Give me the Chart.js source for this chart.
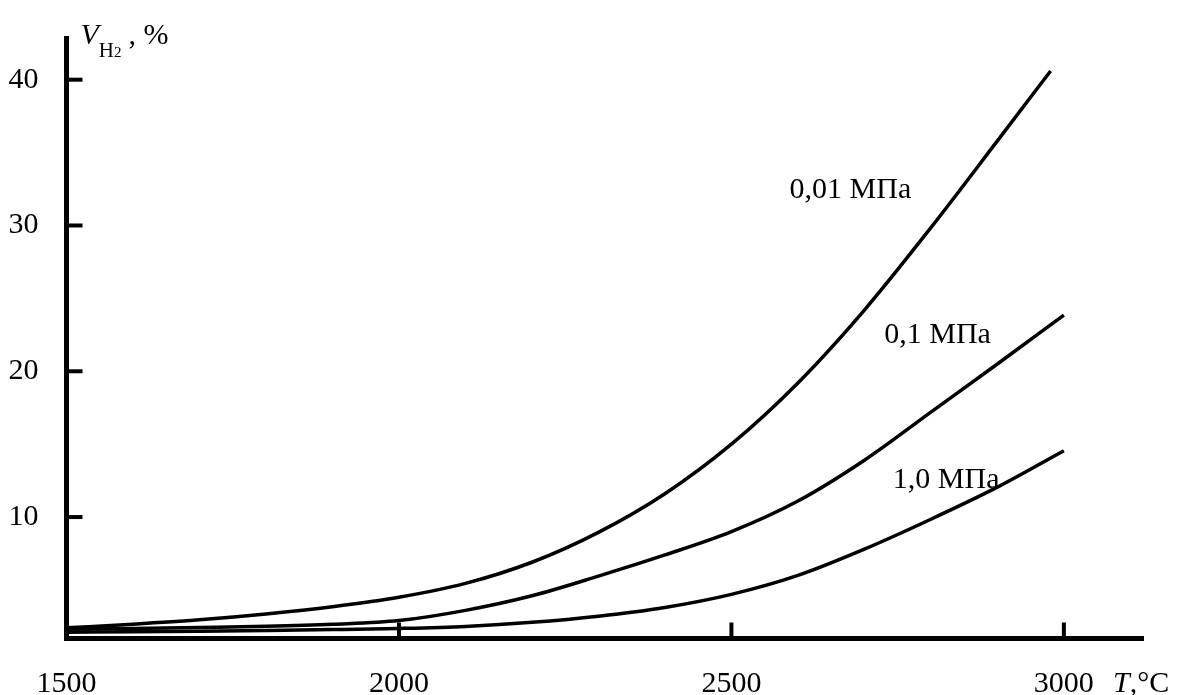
<!DOCTYPE html>
<html>
<head>
<meta charset="utf-8">
<script src="https://cdn.jsdelivr.net/npm/chart.js@4/dist/chart.umd.min.js"></script>
<style>
  html, body { margin: 0; padding: 0; background: #fff; }
  canvas { display: block; }
</style>
</head>
<body>
<canvas id="hydrogenChart" width="1192" height="695"></canvas>
<script>
// temperature, °C
const temps = [1500, 1600, 1700, 1800, 1900, 2000, 2100, 2200, 2300, 2400, 2500, 2600, 2700, 2800, 2900, 3000];
const temps001 = [1500, 1600, 1700, 1800, 1900, 2000, 2100, 2200, 2300, 2400, 2500, 2600, 2700, 2800, 2900, 2980];
// V(H2), % at 0.01, 0.1 and 1.0 MPa
const h2At001 = [2.4, 2.65, 2.95, 3.35, 3.85, 4.5, 5.45, 6.9, 8.95, 11.6, 15.0, 19.2, 24.2, 29.85, 35.8, 40.6];
const h2At01 = [2.3, 2.36, 2.43, 2.51, 2.65, 2.9, 3.6, 4.6, 5.95, 7.4, 9.0, 11.1, 13.9, 17.2, 20.5, 23.85];
const h2At10 = [2.1, 2.13, 2.17, 2.22, 2.28, 2.36, 2.5, 2.78, 3.2, 3.8, 4.7, 6.0, 7.8, 9.85, 12.05, 14.55];
const xTicks = [1500, 2000, 2500, 3000];
const yTicks = [10, 20, 30, 40];
const pressureLabels = ['0,01 МПа', '0,1 МПа', '1,0 МПа'];
// caption centres, in data units
const labelAnchors = [[2679, 32.4], [2810, 22.45], [2823, 12.5]];

const toPoints = (xs, ys) => xs.map((x, i) => ({ x: x, y: ys[i] }));
const serif = '"Liberation Serif", "Times New Roman", serif';

const curve = (data) => ({
    data: data,
    borderColor: '#000',
    borderWidth: 3.5,
    pointRadius: 0,
    fill: false,
    cubicInterpolationMode: 'monotone'
});

const decorations = {
    id: 'decorations',
    afterDraw(chart) {
        const c = chart.ctx;
        const area = chart.chartArea;
        const xs = chart.scales.x, ys = chart.scales.y;
        c.save();
        c.strokeStyle = '#000';
        c.lineWidth = 4;
        // inward tick marks
        yTicks.forEach(v => {
            const y = ys.getPixelForValue(v);
            c.beginPath();
            c.moveTo(area.left, y);
            c.lineTo(area.left + 16, y);
            c.stroke();
        });
        xTicks.slice(1).forEach(v => {
            const x = xs.getPixelForValue(v);
            c.beginPath();
            c.moveTo(x, area.bottom);
            c.lineTo(x, area.bottom - 16);
            c.stroke();
        });

        c.fillStyle = '#000';
        c.font = '30px ' + serif;
        c.textAlign = 'center';
        c.textBaseline = 'middle';
        pressureLabels.forEach((t, i) => {
            c.fillText(t, xs.getPixelForValue(labelAnchors[i][0]), ys.getPixelForValue(labelAnchors[i][1]));
        });

        // y title: V_H2, %
        c.textAlign = 'left';
        c.textBaseline = 'alphabetic';
        let tx = area.left + 14;
        const base = area.top + 6;
        c.font = 'italic 30px ' + serif;
        c.fillText('V', tx, base);
        tx += c.measureText('V').width;
        c.font = '21px ' + serif;
        c.fillText('H', tx, base + 13);
        tx += c.measureText('H').width;
        c.font = '15px ' + serif;
        c.fillText('2', tx, base + 13);
        tx += c.measureText('2').width + 7;
        c.font = '30px ' + serif;
        c.fillText(', %', tx, base);

        // x title: T,°C
        let bx = area.right - 30;
        const bb = area.bottom + 53;
        c.font = 'italic 30px ' + serif;
        c.fillText('T', bx, bb);
        bx += c.measureText('T').width;
        c.font = '30px ' + serif;
        c.fillText(',°C', bx, bb);
        c.restore();
    }
};

const ctx = document.getElementById('hydrogenChart');
new Chart(ctx, {
    type: 'line',
    data: {
        datasets: [
            curve(toPoints(temps001, h2At001)),
            curve(toPoints(temps, h2At01)),
            curve(toPoints(temps, h2At10))
        ]
    },
    options: {
        responsive: false,
        animation: false,
        devicePixelRatio: 1,
        layout: { padding: { left: 0, top: 33, right: 49, bottom: 0 } },
        plugins: { legend: { display: false }, tooltip: { enabled: false } },
        scales: {
            x: {
                type: 'linear',
                min: 1500,
                max: 3119,
                grid: { display: false },
                border: { display: true, color: '#000', width: 5 },
                afterBuildTicks: s => { s.ticks = xTicks.map(v => ({ value: v })); },
                afterFit: s => { s.height = 56.5; },
                ticks: {
                    color: '#000', padding: 20, maxRotation: 0,
                    font: { family: serif, size: 30 },
                    callback: v => String(v)
                }
            },
            y: {
                min: 1.67,
                max: 42.86,
                grid: { display: false },
                border: { display: true, color: '#000', width: 5 },
                afterBuildTicks: s => { s.ticks = yTicks.map(v => ({ value: v })); },
                afterFit: s => { s.width = 66.5; },
                ticks: {
                    color: '#000', padding: 20,
                    font: { family: serif, size: 30 },
                    callback: v => String(v)
                }
            }
        }
    },
    plugins: [decorations]
});
</script>
</body>
</html>
